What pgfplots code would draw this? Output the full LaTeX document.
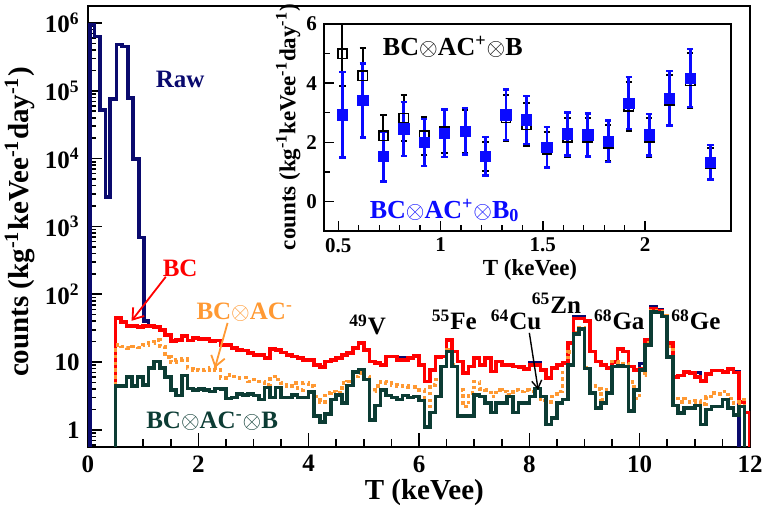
\documentclass[border=0pt]{standalone}
\usepackage{fontspec}
\setmainfont{Liberation Serif}
\usepackage{pgfplots}
\pgfplotsset{compat=1.18}
\usetikzlibrary{arrows.meta}
\definecolor{rawc}{RGB}{10,10,110}
\definecolor{bcc}{RGB}{255,0,0}
\definecolor{acc}{RGB}{255,153,51}
\definecolor{gc}{RGB}{12,60,52}
\definecolor{bluec}{RGB}{10,10,255}
\newcommand{\lab}{\fontsize{12.5}{14}\selectfont\bfseries}
\begin{document}
\begin{tikzpicture}
\useasboundingbox (-44pt,-29.5pt) rectangle (338.5pt,223.5pt);
\begin{axis}[
  at={(0pt,0pt)}, anchor=south west,
  scale only axis, width=331pt, height=220.5pt,
  xmin=0, xmax=12, ymode=log, ymin=0.56, ymax=1.78e6,
  xtick={0,2,4,6,8,10,12}, minor x tick num=3,
  ytick={1,10,100,1000,10000,100000,1000000},
  yticklabels={1,10,10\textsuperscript{2},10\textsuperscript{3},10\textsuperscript{4},10\textsuperscript{5},10\textsuperscript{6}},
  minor ytick={0.6,0.7,0.8,0.9,2,3,4,5,6,7,8,9,20,30,40,50,60,70,80,90,200,300,400,500,600,700,800,900,2000,3000,4000,5000,6000,7000,8000,9000,20000,30000,40000,50000,60000,70000,80000,90000,200000,300000,400000,500000,600000,700000,800000,900000},
  tick pos=left, tick align=inside,
  major tick length=7pt, minor tick length=4pt,
  axis line style={line width=1.3pt},
  every tick/.style={black, line width=0.8pt},
  tick label style={font=\fontsize{12.5}{14}\selectfont\bfseries},
  /pgf/number format/assume math mode=true,
  xlabel={T (keVee)},
  ylabel={counts (kg\textsuperscript{-1}keVee\textsuperscript{-1}day\textsuperscript{-1})},
  label style={font=\fontsize{14.5}{16}\selectfont\bfseries},
  xlabel style={at={(axis description cs:0.508,-0.103)}, anchor=center},
  ylabel style={at={(axis description cs:-0.103,0.51)}, anchor=center},
  const plot, line width=1.8pt,
]
% Raw
\addplot[rawc, mark=none] coordinates {
(0.04,0.1) (0.04,9.5e5) (0.12,6.3e5) (0.22,5.2e4) (0.32,2.7e3) (0.40,7.5e4) (0.52,4.8e5) (0.62,4.5e5) (0.72,7.8e4) (0.82,9.8e3) (0.92,690) (1.02,40)
(1.1,34) (1.2,33) (1.3,30) (1.4,25) (1.5,20.6) (1.6,21.3) (1.7,24.3) (1.8,20.8) (1.9,22.5)
(2.0,21.7) (2.1,21.7) (2.2,20.6) (2.3,20.8) (2.4,17.9) (2.5,17.9) (2.6,16.0) (2.7,15.1) (2.8,14.8) (2.9,13.5)
(3.0,12.8) (3.1,12.8) (3.2,11.4) (3.3,15.5) (3.4,15.1) (3.5,13.8) (3.6,12.8) (3.7,12.1) (3.8,11.4) (3.9,10.8)
(4.0,10.8) (4.1,9.1) (4.2,8.4) (4.3,10.2) (4.4,10.8) (4.5,11.4) (4.6,12.8) (4.7,13.5) (4.8,16) (4.9,19)
(5.0,15) (5.1,10.2) (5.2,9.6) (5.3,9.1) (5.4,12.1) (5.5,12.1) (5.6,11.5) (5.7,11.5) (5.8,11.4) (5.9,12.3)
(6.0,9.1) (6.1,5.2) (6.2,7.7) (6.3,11.8) (6.4,12.1) (6.5,21.3) (6.6,14.3) (6.7,10.2) (6.8,6.9) (6.9,8.6)
(7.0,11.4) (7.1,9.1) (7.2,11.4) (7.3,7.3) (7.4,10.2) (7.5,9.1) (7.6,9.1) (7.7,8.6) (7.8,8.4) (7.9,7.9)
(8.0,9.8) (8.1,9.6) (8.2,7.7) (8.3,5.8) (8.4,8.1) (8.5,9.1) (8.6,9.6) (8.7,19) (8.8,47) (8.9,47)
(9.0,40) (9.1,14.3) (9.2,10.2) (9.3,9.1) (9.4,8.1) (9.5,10) (9.6,15.5) (9.7,14.3) (9.8,8.6) (9.9,7.7)
(10.0,9.5) (10.1,21) (10.2,66) (10.3,60) (10.4,48) (10.5,19) (10.6,6.0) (10.7,6.3) (10.8,7.2) (10.9,6.9)
(11.0,7.0) (11.1,5.3) (11.2,6.7) (11.3,7.5) (11.4,7.5) (11.5,7.2) (11.6,7.9) (11.7,7.3) (11.8,0.1)
};
% BC
\addplot[bcc, mark=none] coordinates {
(0.5,4.5) (0.5,45) (0.6,39) (0.7,34) (0.8,34) (0.9,33)
(1.0,34) (1.1,34) (1.2,33) (1.3,30) (1.4,25) (1.5,20.6) (1.6,21.3) (1.7,24.3) (1.8,20.8) (1.9,22.5)
(2.0,21.7) (2.1,21.7) (2.2,20.6) (2.3,20.8) (2.4,17.9) (2.5,17.9) (2.6,16.0) (2.7,15.1) (2.8,14.8) (2.9,13.5)
(3.0,12.8) (3.1,12.8) (3.2,11.4) (3.3,15.5) (3.4,15.1) (3.5,13.8) (3.6,12.8) (3.7,12.1) (3.8,11.4) (3.9,10.8)
(4.0,10.8) (4.1,9.1) (4.2,8.4) (4.3,10.2) (4.4,10.8) (4.5,11.4) (4.6,12.8) (4.7,13.5) (4.8,16) (4.9,19)
(5.0,15) (5.1,10.2) (5.2,9.6) (5.3,9.1) (5.4,12.1) (5.5,12.1) (5.6,10.8) (5.7,10.8) (5.8,11.4) (5.9,12.3)
(6.0,9.1) (6.1,5.2) (6.2,7.7) (6.3,11.8) (6.4,12.1) (6.5,21.3) (6.6,14.3) (6.7,10.2) (6.8,6.9) (6.9,8.6)
(7.0,11.4) (7.1,9.1) (7.2,11.4) (7.3,7.3) (7.4,10.2) (7.5,9.1) (7.6,9.1) (7.7,8.6) (7.8,8.4) (7.9,7.9)
(8.0,9.1) (8.1,9.1) (8.2,7.7) (8.3,5.8) (8.4,8.1) (8.5,9.1) (8.6,9.6) (8.7,19) (8.8,44) (8.9,44)
(9.0,40) (9.1,14.3) (9.2,10.2) (9.3,9.1) (9.4,8.1) (9.5,10) (9.6,15.5) (9.7,14.3) (9.8,8.6) (9.9,7.7)
(10.0,7.9) (10.1,21) (10.2,62) (10.3,57) (10.4,48) (10.5,19) (10.6,6.0) (10.7,6.3) (10.8,7.2) (10.9,6.9)
(11.0,6.0) (11.1,5.3) (11.2,6.7) (11.3,7.5) (11.4,7.5) (11.5,7.2) (11.6,7.9) (11.7,7.0) (11.8,2.6) (11.9,1.8) (12.0,0.1)
};
% BC x AC-
\addplot[acc, mark=none, dash pattern=on 1.8pt off 1.6pt] coordinates {
(0.5,4.5) (0.5,17.9) (0.6,16.9) (0.7,16) (0.8,16.9) (0.9,16.5)
(1.0,17.9) (1.1,19) (1.2,21.3) (1.3,16.9) (1.4,12) (1.5,10) (1.6,10.8) (1.7,11) (1.8,8) (1.9,7.7)
(2.0,7.5) (2.1,7.7) (2.2,8.1) (2.3,7.7) (2.4,5.8) (2.5,6.5) (2.6,6.1) (2.7,5.8) (2.8,5.9) (2.9,5.2)
(3.0,5.5) (3.1,5.2) (3.2,4.6) (3.3,6.1) (3.4,5.5) (3.5,4.9) (3.6,4.4) (3.7,4.9) (3.8,3.9) (3.9,4.9)
(4.0,4.4) (4.1,3.1) (4.2,2.6) (4.3,3.5) (4.4,3.7) (4.5,3.5) (4.6,4.9) (4.7,5.2) (4.8,6.1) (4.9,6.9)
(5.0,6.1) (5.1,3.7) (5.2,4.4) (5.3,5.2) (5.4,4.9) (5.5,4.6) (5.6,4.4) (5.7,4.4) (5.8,4.3) (5.9,4.3)
(6.0,3.9) (6.1,2.2) (6.2,4.6) (6.3,5.5) (6.4,8.6) (6.5,15) (6.6,9) (6.7,3.9) (6.8,2.2) (6.9,3.5)
(7.0,5.2) (7.1,4.0) (7.2,3.9) (7.3,3.1) (7.4,3.9) (7.5,3.7) (7.6,3.3) (7.7,3.9) (7.8,3.7) (7.9,3.9)
(8.0,3.7) (8.1,4.1) (8.2,2.7) (8.3,2.6) (8.4,3.1) (8.5,3.7) (8.6,7.0) (8.7,14) (8.8,27) (8.9,32)
(9.0,8.1) (9.1,4.4) (9.2,4.0) (9.3,2.8) (9.4,3.9) (9.5,10.2) (9.6,10) (9.7,9.5) (9.8,5.1) (9.9,2.9)
(10.0,6.5) (10.1,19) (10.2,57) (10.3,55) (10.4,48) (10.5,17) (10.6,3.1) (10.7,2.6) (10.8,2.9) (10.9,2.6)
(11.0,2.7) (11.1,2.4) (11.2,3.1) (11.3,3.5) (11.4,3.4) (11.5,3.7) (11.6,2.9) (11.7,2.5) (11.8,2.8) (11.9,0.1) (12.0,0.1)
};
% BC x AC- x B
\addplot[gc, mark=none] coordinates {
(0.5,0.1) (0.5,4.4) (0.6,4.4) (0.7,6.0) (0.8,4.4) (0.9,6.0)
(1.0,4.6) (1.1,8.1) (1.2,10.2) (1.3,8.1) (1.4,6.0) (1.5,3.9) (1.6,3.2) (1.7,6.3) (1.8,4.1) (1.9,3.9)
(2.0,4.0) (2.1,3.9) (2.2,3.7) (2.3,4.1) (2.4,4.0) (2.5,2.9) (2.6,3.0) (2.7,3.4) (2.8,3.3) (2.9,3.4)
(3.0,3.2) (3.1,2.8) (3.2,4.2) (3.3,3.0) (3.4,4.2) (3.5,3.0) (3.6,3.0) (3.7,3.3) (3.8,3.0) (3.9,3.0)
(4.0,3.6) (4.1,1.6) (4.2,1.3) (4.3,1.7) (4.4,2.8) (4.5,3.3) (4.6,2.5) (4.7,4.5) (4.8,7.2) (4.9,7.8)
(5.0,5.5) (5.1,1.4) (5.2,2.3) (5.3,3.9) (5.4,3.2) (5.5,3.0) (5.6,2.8) (5.7,3.2) (5.8,3.0) (5.9,3.1)
(6.0,2.7) (6.1,1.1) (6.2,1.8) (6.3,3.1) (6.4,8.6) (6.5,14.3) (6.6,8.6) (6.7,1.6) (6.8,1.6) (6.9,1.6)
(7.0,3.3) (7.1,3.1) (7.2,2.5) (7.3,1.8) (7.4,2.5) (7.5,2.5) (7.6,3.1) (7.7,1.8) (7.8,2.5) (7.9,2.5)
(8.0,3.1) (8.1,4.1) (8.2,3.1) (8.3,1.2) (8.4,1.5) (8.5,2.5) (8.6,2.8) (8.7,9) (8.8,26) (8.9,31)
(9.0,8) (9.1,3.5) (9.2,2.1) (9.3,2.5) (9.4,3.5) (9.5,8.6) (9.6,8.8) (9.7,8.6) (9.8,1.9) (9.9,3.9)
(10.0,7.7) (10.1,18) (10.2,55) (10.3,54) (10.4,47) (10.5,12) (10.6,2.3) (10.7,1.76) (10.8,2.1) (10.9,2.1)
(11.0,2.3) (11.1,1.2) (11.2,2.0) (11.3,2.2) (11.4,2.2) (11.5,2.8) (11.6,2.1) (11.7,1.66) (11.8,2.2) (11.9,0.1) (12.0,0.1)
};
\node[rawc, font=\lab] at (axis cs:1.67,1.45e5) {Raw};
\node[bcc, font=\lab] at (axis cs:1.67,245) {BC};
\draw[bcc, line width=0.9pt, -{Straight Barb[length=5pt,width=7pt]}] (axis cs:1.41,181) -- (axis cs:0.79,40.6);
\node[acc, font=\lab] at (axis cs:2.84,55) {BC$\otimes$AC\textsuperscript{-}};
\draw[acc, line width=0.9pt, -{Straight Barb[length=5pt,width=7pt]}] (axis cs:2.53,37.8) -- (axis cs:2.30,8.2);
\node[gc, font=\lab] at (axis cs:2.25,1.36) {BC$\otimes$AC\textsuperscript{-}$\otimes$B};
\node[black, font=\lab] at (axis cs:5.07,35.4) {\textsuperscript{49}V};
\node[black, font=\lab] at (axis cs:6.64,42) {\textsuperscript{55}Fe};
\node[black, font=\lab] at (axis cs:7.76,42) {\textsuperscript{64}Cu};
\node[black, font=\lab] at (axis cs:8.49,74.7) {\textsuperscript{65}Zn};
\node[black, font=\lab] at (axis cs:9.63,42) {\textsuperscript{68}Ga};
\node[black, font=\lab] at (axis cs:11.02,42) {\textsuperscript{68}Ge};
\draw[black, line width=0.7pt, -{Straight Barb[length=4pt,width=5pt]}] (axis cs:8.0,27) -- (axis cs:8.16,3.9);
\end{axis}
\begin{axis}[
  at={(118pt,108pt)}, anchor=south west,
  scale only axis, width=203.5pt, height=103.5pt,
  xmin=0.43, xmax=2.42, ymin=-1, ymax=6,
  xtick={0.5,1,1.5,2}, ytick={0,2,4,6},
  minor x tick num=4, minor y tick num=1,
  tick pos=left, tick align=inside,
  major tick length=5pt, minor tick length=3pt,
  axis line style={line width=1.1pt},
  every tick/.style={black, line width=0.7pt},
  axis background/.style={fill=white},
  tick label style={font=\fontsize{10.5}{12}\selectfont\bfseries},
  /pgf/number format/assume math mode=true,
  xlabel={T (keVee)},
  ylabel={counts (kg\textsuperscript{-1}keVee\textsuperscript{-1}day\textsuperscript{-1})},
  label style={font=\fontsize{11.5}{13}\selectfont\bfseries},
  xlabel style={at={(axis description cs:0.506,-0.188)}, anchor=center},
  ylabel style={at={(axis description cs:-0.088,0.502)}, anchor=center},
]
\addplot[black, only marks, mark=square, mark size=2.3pt, mark options={line width=0.8pt, fill=white},
  error bars/.cd, y dir=both, y explicit,
  error bar style={line width=1pt, black},
  error mark options={rotate=90, mark size=1.6pt, line width=1pt}]
coordinates {
(0.52,4.99) +- (0,1.1)
(0.62,4.25) +- (0,0.95)
(0.72,2.22) +- (0,0.7)
(0.82,2.82) +- (0,0.78)
(0.92,2.22) +- (0,0.65)
(1.02,2.37) +- (0,0.72)
(1.12,2.37) +- (0,0.73)
(1.22,1.52) +- (0,0.5)
(1.32,2.82) +- (0,0.77)
(1.42,2.59) +- (0,0.73)
(1.52,1.75) +- (0,0.6)
(1.62,2.16) +- (0,0.66)
(1.72,2.16) +- (0,0.66)
(1.82,1.97) +- (0,0.62)
(1.92,3.21) +- (0,0.83)
(2.02,2.16) +- (0,0.66)
(2.12,3.41) +- (0,0.85)
(2.22,4.08) +- (0,0.93)
(2.32,1.27) +- (0,0.55)
};
\addplot[bluec, only marks, mark=square*, mark size=2.6pt, mark options={fill=bluec},
  error bars/.cd, y dir=both, y explicit,
  error bar style={line width=1.4pt, bluec},
  error mark options={rotate=90, mark size=1.6pt, line width=1.2pt}]
coordinates {
(0.52,2.93) +- (0,1.45)
(0.62,3.41) +- (0,1.25)
(0.72,1.52) +- (0,0.85)
(0.82,2.45) +- (0,0.92)
(0.92,1.99) +- (0,0.8)
(1.02,2.31) +- (0,0.8)
(1.12,2.37) +- (0,0.78)
(1.22,1.52) +- (0,0.65)
(1.32,2.93) +- (0,0.86)
(1.42,2.76) +- (0,0.81)
(1.52,1.83) +- (0,0.68)
(1.62,2.28) +- (0,0.73)
(1.72,2.25) +- (0,0.73)
(1.82,2.03) +- (0,0.7)
(1.92,3.32) +- (0,0.88)
(2.02,2.25) +- (0,0.7)
(2.12,3.49) +- (0,0.92)
(2.22,4.17) +- (0,0.98)
(2.32,1.32) +- (0,0.58)
};
\node[black, font=\fontsize{13}{15}\selectfont\bfseries] at (axis cs:1.06,5.23) {BC$\otimes$AC\textsuperscript{+}$\otimes$B};
\node[bluec, font=\fontsize{13}{15}\selectfont\bfseries] at (axis cs:1.02,-0.31) {BC$\otimes$AC\textsuperscript{+}$\otimes$B\textsubscript{0}};
\end{axis}
\end{tikzpicture}
\end{document}
